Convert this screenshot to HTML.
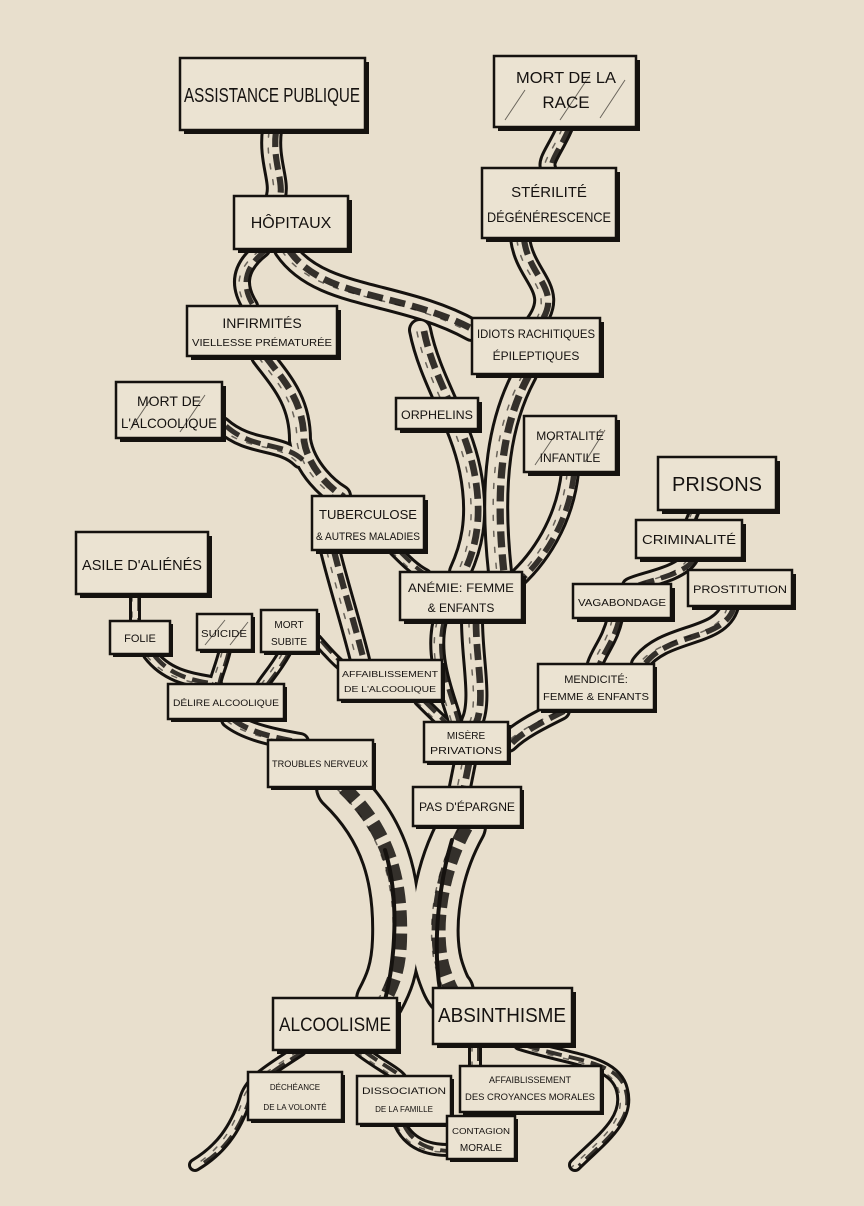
<!DOCTYPE html>
<html><head><meta charset="utf-8"><style>
html,body{margin:0;padding:0;background:#e8dfcd;}
svg{display:block}
text{font-family:"Liberation Sans Narrow","Liberation Sans",sans-serif;fill:#151210;text-anchor:middle;}
</style></head><body>
<svg width="864" height="1206" viewBox="0 0 864 1206" xmlns="http://www.w3.org/2000/svg">
<rect width="864" height="1206" fill="#e8dfcd"/>
<defs>
<g id="br">
<path d="M272,130 C268,160 280,180 276,196" style="--w:22px;stroke-width:calc(var(--w)*var(--k) - var(--d))"/>
<path d="M565,127 C555,150 545,160 548,168" style="--w:18px;stroke-width:calc(var(--w)*var(--k) - var(--d))"/>
<path d="M262,249 C235,270 240,290 250,306" style="--w:18px;stroke-width:calc(var(--w)*var(--k) - var(--d))"/>
<path d="M285,249 C320,300 400,290 472,330" style="--w:24px;stroke-width:calc(var(--w)*var(--k) - var(--d))"/>
<path d="M520,238 C525,280 565,290 530,330" style="--w:22px;stroke-width:calc(var(--w)*var(--k) - var(--d))"/>
<path d="M525,374 C500,420 490,480 500,572" style="--w:26px;stroke-width:calc(var(--w)*var(--k) - var(--d))"/>
<path d="M420,330 C430,380 460,420 470,470 C480,520 470,550 460,572" style="--w:24px;stroke-width:calc(var(--w)*var(--k) - var(--d))"/>
<path d="M262,356 C280,380 300,400 300,440 C305,470 330,490 340,496" style="--w:24px;stroke-width:calc(var(--w)*var(--k) - var(--d))"/>
<path d="M222,425 C250,450 280,440 300,460" style="--w:18px;stroke-width:calc(var(--w)*var(--k) - var(--d))"/>
<path d="M570,472 C565,520 540,560 510,585" style="--w:20px;stroke-width:calc(var(--w)*var(--k) - var(--d))"/>
<path d="M330,550 C340,590 350,620 360,660" style="--w:22px;stroke-width:calc(var(--w)*var(--k) - var(--d))"/>
<path d="M395,550 C405,560 415,570 425,575" style="--w:14px;stroke-width:calc(var(--w)*var(--k) - var(--d))"/>
<path d="M472,620 C472,660 482,700 472,722" style="--w:24px;stroke-width:calc(var(--w)*var(--k) - var(--d))"/>
<path d="M440,620 C430,660 450,700 455,722" style="--w:16px;stroke-width:calc(var(--w)*var(--k) - var(--d))"/>
<path d="M420,700 C430,710 440,720 445,724" style="--w:14px;stroke-width:calc(var(--w)*var(--k) - var(--d))"/>
<path d="M690,558 C680,575 640,580 630,586" style="--w:18px;stroke-width:calc(var(--w)*var(--k) - var(--d))"/>
<path d="M730,606 C720,640 665,630 640,664" style="--w:20px;stroke-width:calc(var(--w)*var(--k) - var(--d))"/>
<path d="M615,618 C610,640 600,650 595,664" style="--w:18px;stroke-width:calc(var(--w)*var(--k) - var(--d))"/>
<path d="M560,710 C540,720 520,730 508,742" style="--w:22px;stroke-width:calc(var(--w)*var(--k) - var(--d))"/>
<path d="M695,510 L690,522" style="--w:12px;stroke-width:calc(var(--w)*var(--k) - var(--d))"/>
<path d="M135,594 L135,621" style="--w:12px;stroke-width:calc(var(--w)*var(--k) - var(--d))"/>
<path d="M150,654 C170,680 200,680 215,684" style="--w:16px;stroke-width:calc(var(--w)*var(--k) - var(--d))"/>
<path d="M225,650 C220,670 215,678 215,686" style="--w:14px;stroke-width:calc(var(--w)*var(--k) - var(--d))"/>
<path d="M285,652 C275,670 265,680 262,686" style="--w:14px;stroke-width:calc(var(--w)*var(--k) - var(--d))"/>
<path d="M317,640 C330,655 340,665 345,668" style="--w:12px;stroke-width:calc(var(--w)*var(--k) - var(--d))"/>
<path d="M230,719 C250,735 290,740 300,742" style="--w:20px;stroke-width:calc(var(--w)*var(--k) - var(--d))"/>
<path d="M465,762 L460,787" style="--w:24px;stroke-width:calc(var(--w)*var(--k) - var(--d))"/>
<path d="M340,787 C385,830 398,880 396,940 C395,970 388,985 380,1000" style="--w:50px;stroke-width:calc(var(--w)*var(--k) - var(--d))"/>
<path d="M462,826 C432,880 430,940 440,970 C445,985 448,990 450,992" style="--w:50px;stroke-width:calc(var(--w)*var(--k) - var(--d))"/>
<path d="M300,1050 C270,1070 250,1080 245,1100 C235,1130 220,1150 195,1165" style="--w:14px;stroke-width:calc(var(--w)*var(--k) - var(--d))"/>
<path d="M360,1050 C380,1065 395,1072 400,1078" style="--w:14px;stroke-width:calc(var(--w)*var(--k) - var(--d))"/>
<path d="M475,1044 L475,1068" style="--w:14px;stroke-width:calc(var(--w)*var(--k) - var(--d))"/>
<path d="M520,1044 C570,1060 615,1060 622,1090 C630,1120 600,1140 575,1165" style="--w:14px;stroke-width:calc(var(--w)*var(--k) - var(--d))"/>
<path d="M400,1124 C410,1145 430,1150 448,1150" style="--w:14px;stroke-width:calc(var(--w)*var(--k) - var(--d))"/>
</g>
</defs>
<g fill="none" stroke="#15120f" stroke-linecap="round" style="--d:0px;--k:1"><use href="#br"/></g>
<g fill="none" stroke="#e8dfcd" stroke-linecap="round" style="--d:6px;--k:1"><use href="#br"/></g>
<g fill="none" stroke="#15120f" stroke-linecap="butt" stroke-dasharray="16 7" opacity="0.85" style="--d:0px;--k:0.28"><use href="#br" transform="translate(4,1)"/></g>
<g fill="none" stroke="#15120f" stroke-linecap="round" stroke-dasharray="5 11" opacity="0.6" style="--d:-1.5px;--k:0"><use href="#br" transform="translate(-3,2)"/></g>
<g fill="none" stroke="#15120f" stroke-width="4" stroke-linecap="round">
<path d="M385,1000 C395,960 400,900 385,850"/><path d="M440,990 C432,940 440,880 452,840"/>
</g>

<g stroke="#15120f" stroke-width="2.5" fill="#ebe3d2">
<g fill="#15120f" stroke="none">
<rect x="184" y="62" width="185" height="72"/><rect x="498" y="60" width="142" height="71"/>
<rect x="238" y="200" width="114" height="53"/><rect x="486" y="172" width="134" height="70"/>
<rect x="191" y="310" width="150" height="50"/><rect x="476" y="322" width="128" height="56"/>
<rect x="120" y="386" width="106" height="56"/><rect x="400" y="402" width="82" height="31"/>
<rect x="528" y="420" width="92" height="56"/><rect x="662" y="461" width="118" height="53"/>
<rect x="316" y="500" width="112" height="54"/><rect x="80" y="536" width="132" height="62"/>
<rect x="640" y="524" width="106" height="38"/><rect x="404" y="576" width="122" height="48"/>
<rect x="577" y="588" width="98" height="34"/><rect x="692" y="574" width="104" height="36"/>
<rect x="113" y="624" width="60" height="33"/><rect x="200" y="617" width="55" height="36"/>
<rect x="264" y="613" width="56" height="42"/><rect x="341" y="663" width="104" height="40"/>
<rect x="171" y="687" width="116" height="35"/><rect x="541" y="667" width="116" height="46"/>
<rect x="427" y="725" width="84" height="40"/><rect x="271" y="743" width="105" height="47"/>
<rect x="416" y="790" width="108" height="39"/><rect x="277" y="1002" width="124" height="52"/>
<rect x="437" y="992" width="139" height="56"/><rect x="251" y="1075" width="94" height="48"/>
<rect x="360" y="1079" width="94" height="48"/><rect x="463" y="1069" width="141" height="46"/>
<rect x="450" y="1119" width="68" height="43"/>
</g>
<rect x="180" y="58" width="185" height="72"/><rect x="494" y="56" width="142" height="71"/>
<rect x="234" y="196" width="114" height="53"/><rect x="482" y="168" width="134" height="70"/>
<rect x="187" y="306" width="150" height="50"/><rect x="472" y="318" width="128" height="56"/>
<rect x="116" y="382" width="106" height="56"/><rect x="396" y="398" width="82" height="31"/>
<rect x="524" y="416" width="92" height="56"/><rect x="658" y="457" width="118" height="53"/>
<rect x="312" y="496" width="112" height="54"/><rect x="76" y="532" width="132" height="62"/>
<rect x="636" y="520" width="106" height="38"/><rect x="400" y="572" width="122" height="48"/>
<rect x="573" y="584" width="98" height="34"/><rect x="688" y="570" width="104" height="36"/>
<rect x="110" y="621" width="60" height="33"/><rect x="197" y="614" width="55" height="36"/>
<rect x="261" y="610" width="56" height="42"/><rect x="338" y="660" width="104" height="40"/>
<rect x="168" y="684" width="116" height="35"/><rect x="538" y="664" width="116" height="46"/>
<rect x="424" y="722" width="84" height="40"/><rect x="268" y="740" width="105" height="47"/>
<rect x="413" y="787" width="108" height="39"/><rect x="273" y="998" width="124" height="52"/>
<rect x="433" y="988" width="139" height="56"/><rect x="248" y="1072" width="94" height="48"/>
<rect x="357" y="1076" width="94" height="48"/><rect x="460" y="1066" width="141" height="46"/>
<rect x="447" y="1116" width="68" height="43"/>
</g>
<g stroke="#15120f" stroke-width="1" opacity="0.6">
<path d="M505,120 L525,90 M560,120 L590,75 M600,118 L625,80 M130,430 L150,400 M180,432 L205,395 M535,465 L555,435 M585,462 L605,430 M205,645 L225,620 M230,645 L248,622"/>
</g>
<g font-size="15">
<text x="272" y="102" font-size="20" textLength="176" lengthAdjust="spacingAndGlyphs">ASSISTANCE PUBLIQUE</text>
<text x="566" y="83" font-size="16" textLength="100" lengthAdjust="spacingAndGlyphs">MORT DE LA</text><text x="566" y="108" font-size="17">RACE</text>
<text x="291" y="228" font-size="16">HÔPITAUX</text>
<text x="549" y="197" font-size="15">STÉRILITÉ</text><text x="549" y="222" font-size="14" textLength="124" lengthAdjust="spacingAndGlyphs">DÉGÉNÉRESCENCE</text>
<text x="262" y="328" font-size="14">INFIRMITÉS</text><text x="262" y="346" font-size="10" textLength="140" lengthAdjust="spacingAndGlyphs">VIELLESSE PRÉMATURÉE</text>
<text x="536" y="338" font-size="12" textLength="118" lengthAdjust="spacingAndGlyphs">IDIOTS RACHITIQUES</text><text x="536" y="360" font-size="12">ÉPILEPTIQUES</text>
<text x="169" y="406" font-size="14">MORT DE</text><text x="169" y="428" font-size="14" textLength="96" lengthAdjust="spacingAndGlyphs">L'ALCOOLIQUE</text>
<text x="437" y="419" font-size="12" textLength="72" lengthAdjust="spacingAndGlyphs">ORPHELINS</text>
<text x="570" y="440" font-size="12">MORTALITÉ</text><text x="570" y="462" font-size="12">INFANTILE</text>
<text x="717" y="491" font-size="20">PRISONS</text>
<text x="368" y="519" font-size="13" textLength="98" lengthAdjust="spacingAndGlyphs">TUBERCULOSE</text><text x="368" y="540" font-size="11" textLength="104" lengthAdjust="spacingAndGlyphs">&amp; AUTRES MALADIES</text>
<text x="142" y="570" font-size="15" textLength="120" lengthAdjust="spacingAndGlyphs">ASILE D'ALIÉNÉS</text>
<text x="689" y="544" font-size="13" textLength="94" lengthAdjust="spacingAndGlyphs">CRIMINALITÉ</text>
<text x="461" y="592" font-size="12" textLength="106" lengthAdjust="spacingAndGlyphs">ANÉMIE: FEMME</text><text x="461" y="612" font-size="12">&amp; ENFANTS</text>
<text x="622" y="606" font-size="10" textLength="88" lengthAdjust="spacingAndGlyphs">VAGABONDAGE</text>
<text x="740" y="593" font-size="11" textLength="94" lengthAdjust="spacingAndGlyphs">PROSTITUTION</text>
<text x="140" y="642" font-size="11">FOLIE</text>
<text x="224" y="637" font-size="10" textLength="46" lengthAdjust="spacingAndGlyphs">SUICIDE</text>
<text x="289" y="628" font-size="10">MORT</text><text x="289" y="645" font-size="10">SUBITE</text>
<text x="390" y="677" font-size="8" textLength="96" lengthAdjust="spacingAndGlyphs">AFFAIBLISSEMENT</text><text x="390" y="692" font-size="8" textLength="92" lengthAdjust="spacingAndGlyphs">DE L'ALCOOLIQUE</text>
<text x="226" y="706" font-size="9" textLength="106" lengthAdjust="spacingAndGlyphs">DÉLIRE ALCOOLIQUE</text>
<text x="596" y="683" font-size="11">MENDICITÉ:</text><text x="596" y="700" font-size="10" textLength="106" lengthAdjust="spacingAndGlyphs">FEMME &amp; ENFANTS</text>
<text x="466" y="739" font-size="10">MISÈRE</text><text x="466" y="754" font-size="10" textLength="72" lengthAdjust="spacingAndGlyphs">PRIVATIONS</text>
<text x="320" y="767" font-size="9" textLength="96" lengthAdjust="spacingAndGlyphs">TROUBLES NERVEUX</text>
<text x="467" y="811" font-size="12" textLength="96" lengthAdjust="spacingAndGlyphs">PAS D'ÉPARGNE</text>
<text x="335" y="1031" font-size="19" textLength="112" lengthAdjust="spacingAndGlyphs">ALCOOLISME</text>
<text x="502" y="1022" font-size="20" textLength="128" lengthAdjust="spacingAndGlyphs">ABSINTHISME</text>
<text x="295" y="1090" font-size="8">DÉCHÉANCE</text><text x="295" y="1110" font-size="8">DE LA VOLONTÉ</text>
<text x="404" y="1094" font-size="9" textLength="84" lengthAdjust="spacingAndGlyphs">DISSOCIATION</text><text x="404" y="1112" font-size="8">DE LA FAMILLE</text>
<text x="530" y="1083" font-size="9">AFFAIBLISSEMENT</text><text x="530" y="1100" font-size="9" textLength="130" lengthAdjust="spacingAndGlyphs">DES CROYANCES MORALES</text>
<text x="481" y="1134" font-size="8" textLength="58" lengthAdjust="spacingAndGlyphs">CONTAGION</text><text x="481" y="1151" font-size="10">MORALE</text>
</g>
</svg>
</body></html>
